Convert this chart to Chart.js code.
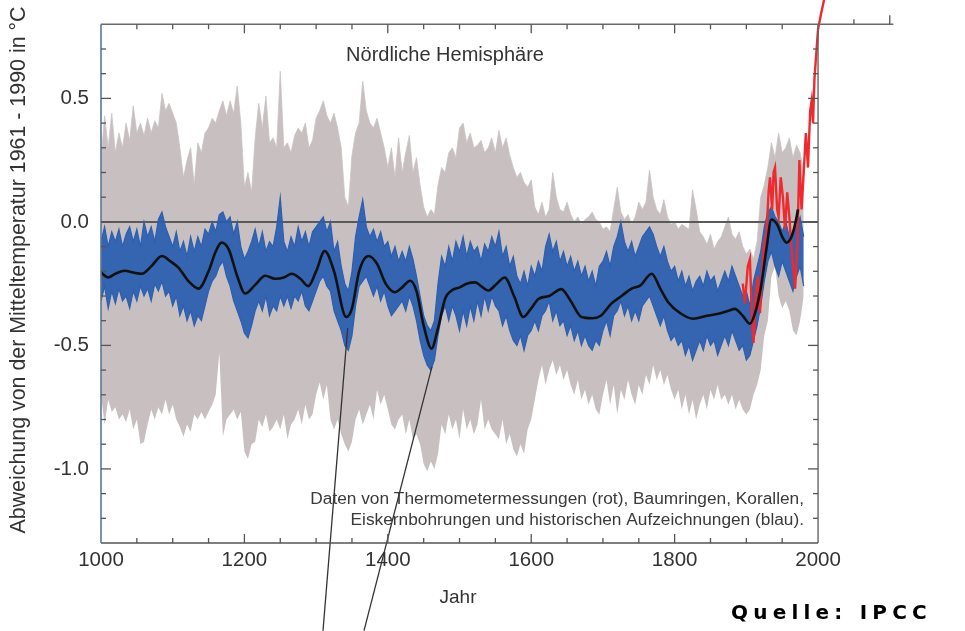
<!DOCTYPE html>
<html><head><meta charset="utf-8">
<script src="https://cdn.jsdelivr.net/npm/chart.js@4.4.1/dist/chart.umd.min.js"></script>
<style>html,body{margin:0;padding:0;background:#fff}#wrap{width:965px;height:631px}</style>
</head><body><div id="wrap"><canvas id="c" width="965" height="631"></canvas></div>
<script>
// ---------- DATA ----------
const bandYears = [
1000,1005,1010,1015,1020,1025,1030,1035,1040,1045,
1050,1055,1060,1065,1070,1075,1080,1085,1090,1095,
1100,1105,1110,1115,1120,1125,1130,1135,1140,1145,
1150,1155,1160,1165,1170,1175,1180,1185,1190,1195,
1200,1205,1210,1215,1220,1225,1230,1235,1240,1245,
1250,1255,1260,1265,1270,1275,1280,1285,1290,1295,
1300,1305,1310,1315,1320,1325,1330,1335,1340,1345,
1350,1355,1360,1365,1370,1375,1380,1385,1390,1395,
1400,1405,1410,1415,1420,1425,1430,1435,1440,1445,
1450,1455,1460,1465,1470,1475,1480,1485,1490,1495,
1500,1505,1510,1515,1520,1525,1530,1535,1540,1545,
1550,1555,1560,1565,1570,1575,1580,1585,1590,1595,
1600,1605,1610,1615,1620,1625,1630,1635,1640,1645,
1650,1655,1660,1665,1670,1675,1680,1685,1690,1695,
1700,1705,1710,1715,1720,1725,1730,1735,1740,1745,
1750,1755,1760,1765,1770,1775,1780,1785,1790,1795,
1800,1805,1810,1815,1820,1825,1830,1835,1840,1845,
1850,1855,1860,1865,1870,1875,1880,1885,1890,1895,
1900,1905,1910,1915,1920,1925,1930,1935,1940,1945,
1950,1955,1960,1965,1970,1975,1980];

const grayUpper = [
0.25,0.43,0.30,0.44,0.28,0.36,0.30,0.40,0.33,0.47,
0.36,0.40,0.35,0.42,0.36,0.41,0.38,0.52,0.45,0.48,
0.44,0.40,0.30,0.18,0.25,0.30,0.15,0.32,0.28,0.36,
0.38,0.42,0.40,0.45,0.49,0.43,0.49,0.44,0.55,0.40,
0.14,0.20,0.12,0.34,0.48,0.38,0.51,0.32,0.34,0.30,
0.61,0.30,0.32,0.28,0.35,0.38,0.36,0.40,0.30,0.33,
0.42,0.45,0.49,0.43,0.40,0.44,0.38,0.30,0.10,0.06,
0.27,0.36,0.40,0.57,0.45,0.40,0.38,0.42,0.36,0.30,
0.22,0.30,0.18,0.34,0.20,0.28,0.35,0.20,0.26,0.15,
0.06,0.02,0.05,0.03,0.15,0.22,0.20,0.28,0.30,0.26,
0.38,0.40,0.32,0.36,0.30,0.31,0.33,0.28,0.30,0.34,
0.28,0.37,0.30,0.34,0.27,0.22,0.18,0.20,0.16,0.14,
0.17,0.06,0.03,0.08,0.02,0.05,0.20,0.10,0.05,0.04,
0.08,0.03,0.00,0.02,-0.01,0.01,0.02,0.04,0.01,0.00,
-0.03,-0.02,-0.04,0.05,0.14,0.04,0.01,0.03,-0.01,0.02,
0.08,0.05,0.08,0.21,0.10,0.05,0.03,0.09,0.02,-0.01,
0.00,-0.03,-0.01,-0.02,-0.03,0.13,0.05,-0.04,-0.06,-0.09,
-0.05,-0.11,-0.08,-0.06,-0.02,0.02,-0.05,-0.07,-0.04,-0.10,
-0.13,-0.11,-0.15,-0.08,0.10,0.15,0.22,0.32,0.26,0.36,
0.28,0.30,0.34,0.26,0.31,0.28,0.20];

const grayLower = [
-0.70,-0.82,-0.72,-0.77,-0.75,-0.80,-0.78,-0.81,-0.76,-0.84,
-0.80,-0.90,-0.89,-0.82,-0.76,-0.80,-0.75,-0.78,-0.72,-0.78,
-0.74,-0.80,-0.83,-0.87,-0.82,-0.85,-0.78,-0.80,-0.77,-0.80,
-0.77,-0.74,-0.70,-0.53,-0.87,-0.80,-0.78,-0.76,-0.80,-0.77,
-0.93,-0.96,-0.90,-0.89,-0.80,-0.83,-0.78,-0.85,-0.83,-0.80,
-0.84,-0.78,-0.88,-0.82,-0.80,-0.76,-0.82,-0.74,-0.80,-0.78,
-0.70,-0.65,-0.72,-0.66,-0.80,-0.84,-0.80,-0.86,-0.90,-0.93,
-0.89,-0.80,-0.76,-0.82,-0.78,-0.74,-0.80,-0.68,-0.74,-0.70,
-0.76,-0.82,-0.84,-0.80,-0.78,-0.86,-0.80,-0.88,-0.86,-0.90,
-0.98,-1.01,-0.97,-1.00,-0.94,-0.82,-0.86,-0.78,-0.84,-0.80,
-0.88,-0.76,-0.84,-0.80,-0.86,-0.82,-0.72,-0.84,-0.80,-0.84,
-0.86,-0.88,-0.80,-0.90,-0.86,-0.92,-0.95,-0.90,-0.94,-0.84,
-0.80,-0.72,-0.64,-0.58,-0.66,-0.60,-0.56,-0.62,-0.58,-0.64,
-0.60,-0.66,-0.70,-0.64,-0.72,-0.68,-0.74,-0.70,-0.76,-0.78,
-0.70,-0.64,-0.74,-0.66,-0.78,-0.68,-0.72,-0.64,-0.70,-0.74,
-0.66,-0.70,-0.62,-0.66,-0.58,-0.64,-0.60,-0.66,-0.62,-0.68,
-0.72,-0.68,-0.76,-0.70,-0.78,-0.72,-0.80,-0.74,-0.70,-0.76,
-0.68,-0.72,-0.66,-0.72,-0.70,-0.74,-0.70,-0.76,-0.72,-0.76,
-0.78,-0.76,-0.70,-0.66,-0.60,-0.46,-0.40,-0.22,-0.18,-0.30,
-0.35,-0.32,-0.36,-0.44,-0.46,-0.40,-0.30];

const blueUpper = [
-0.08,-0.02,-0.10,-0.04,-0.08,-0.03,-0.10,-0.05,-0.02,-0.08,
-0.03,-0.10,0.00,-0.06,-0.02,-0.08,0.01,0.04,-0.02,-0.06,
-0.10,-0.04,-0.12,-0.08,-0.14,-0.06,-0.12,-0.06,-0.10,-0.03,
-0.05,0.00,-0.04,0.03,0.04,0.00,0.02,-0.05,0.00,-0.10,
-0.15,-0.12,-0.08,-0.03,-0.10,-0.04,-0.12,-0.08,-0.10,-0.02,
0.10,-0.08,-0.12,-0.06,-0.10,-0.02,-0.08,-0.04,-0.10,-0.04,
-0.02,0.00,0.02,-0.04,0.00,-0.12,-0.08,-0.18,-0.25,-0.28,
-0.20,-0.06,0.02,0.09,-0.02,-0.06,-0.03,-0.08,-0.04,-0.10,
-0.08,-0.14,-0.10,-0.16,-0.12,-0.16,-0.10,-0.15,-0.22,-0.30,
-0.38,-0.42,-0.44,-0.40,-0.25,-0.14,-0.18,-0.10,-0.16,-0.08,
-0.12,-0.06,-0.14,-0.08,-0.12,-0.10,-0.16,-0.09,-0.12,-0.06,
-0.10,-0.04,-0.14,-0.10,-0.18,-0.14,-0.22,-0.25,-0.20,-0.26,
-0.18,-0.22,-0.16,-0.20,-0.10,-0.05,-0.12,-0.08,-0.16,-0.12,
-0.18,-0.14,-0.20,-0.16,-0.22,-0.18,-0.24,-0.20,-0.26,-0.18,
-0.16,-0.12,-0.18,-0.10,-0.06,0.00,-0.08,-0.12,-0.08,-0.14,
-0.10,-0.06,-0.04,-0.02,-0.05,-0.10,-0.14,-0.10,-0.16,-0.20,
-0.18,-0.24,-0.20,-0.26,-0.22,-0.28,-0.24,-0.22,-0.26,-0.20,
-0.24,-0.22,-0.28,-0.24,-0.20,-0.24,-0.18,-0.22,-0.26,-0.30,
-0.28,-0.34,-0.24,-0.18,-0.12,-0.02,0.04,0.06,0.02,0.00,
-0.04,0.00,-0.06,-0.04,-0.02,0.02,-0.06];

const blueLower = [
-0.32,-0.26,-0.35,-0.28,-0.33,-0.27,-0.32,-0.30,-0.35,-0.28,
-0.32,-0.26,-0.30,-0.27,-0.32,-0.25,-0.28,-0.24,-0.30,-0.28,
-0.34,-0.30,-0.38,-0.34,-0.40,-0.36,-0.42,-0.38,-0.40,-0.34,
-0.28,-0.24,-0.22,-0.18,-0.16,-0.22,-0.26,-0.32,-0.36,-0.40,
-0.45,-0.47,-0.42,-0.36,-0.32,-0.36,-0.30,-0.38,-0.34,-0.36,
-0.30,-0.34,-0.30,-0.35,-0.30,-0.32,-0.28,-0.34,-0.36,-0.32,
-0.28,-0.24,-0.22,-0.26,-0.28,-0.36,-0.40,-0.44,-0.50,-0.52,
-0.46,-0.34,-0.26,-0.24,-0.22,-0.26,-0.30,-0.26,-0.32,-0.28,
-0.34,-0.38,-0.36,-0.34,-0.32,-0.36,-0.30,-0.34,-0.40,-0.48,
-0.54,-0.58,-0.60,-0.56,-0.46,-0.38,-0.34,-0.40,-0.34,-0.38,
-0.44,-0.36,-0.42,-0.34,-0.40,-0.32,-0.38,-0.30,-0.36,-0.30,
-0.34,-0.36,-0.42,-0.38,-0.44,-0.48,-0.50,-0.46,-0.52,-0.46,
-0.44,-0.40,-0.44,-0.38,-0.36,-0.32,-0.40,-0.36,-0.42,-0.40,
-0.46,-0.42,-0.48,-0.44,-0.50,-0.46,-0.50,-0.52,-0.48,-0.50,
-0.44,-0.40,-0.46,-0.38,-0.36,-0.32,-0.38,-0.34,-0.40,-0.36,
-0.40,-0.34,-0.32,-0.30,-0.34,-0.38,-0.42,-0.38,-0.44,-0.48,
-0.46,-0.50,-0.48,-0.54,-0.50,-0.56,-0.52,-0.48,-0.52,-0.46,
-0.50,-0.48,-0.54,-0.50,-0.46,-0.50,-0.44,-0.48,-0.52,-0.50,
-0.56,-0.54,-0.48,-0.42,-0.34,-0.24,-0.16,-0.12,-0.18,-0.22,
-0.16,-0.20,-0.24,-0.28,-0.22,-0.18,-0.26];

const smoothYears = [1000,1010,1020,1033,1045,1057,1070,1085,1097,1108,1122,1136,1150,1160,1168,1178,1190,1201,1215,1229,1243,1255,1266,1278,1289,1300,1312,1325,1342,1350,1360,1373,1385,1397,1410,1420,1431,1440,1450,1461,1470,1480,1489,1500,1510,1522,1531,1540,1552,1563,1576,1589,1600,1610,1625,1642,1655,1670,1685,1697,1712,1726,1740,1752,1768,1780,1791,1808,1826,1845,1861,1875,1884,1895,1905,1912,1920,1928,1935,1943,1950,1956,1963,1968,1972];
const smoothVals = [-0.205,-0.225,-0.21,-0.198,-0.205,-0.21,-0.18,-0.138,-0.16,-0.185,-0.24,-0.27,-0.2,-0.12,-0.084,-0.11,-0.22,-0.29,-0.255,-0.218,-0.23,-0.225,-0.21,-0.23,-0.26,-0.2,-0.118,-0.2,-0.385,-0.35,-0.2,-0.138,-0.17,-0.25,-0.285,-0.265,-0.238,-0.28,-0.42,-0.513,-0.43,-0.31,-0.278,-0.265,-0.25,-0.245,-0.262,-0.278,-0.25,-0.225,-0.3,-0.385,-0.35,-0.312,-0.3,-0.272,-0.32,-0.385,-0.39,-0.38,-0.33,-0.30,-0.27,-0.258,-0.21,-0.27,-0.325,-0.37,-0.392,-0.38,-0.372,-0.36,-0.352,-0.38,-0.412,-0.37,-0.27,-0.11,0.01,-0.01,-0.06,-0.084,-0.06,-0.01,0.05];

const thermoYears = [1895,1898,1902,1905,1908,1910,1913,1916,1919,1922,1925,1928,1931,1933,1936,1938,1940,1943,1945,1948,1951,1954,1957,1960,1963,1966,1968,1971,1974,1977,1980,1983,1986,1989,1991,1993,1995,1998,2000,2004,2010];
const thermoVals = [-0.25,-0.33,-0.18,-0.15,-0.40,-0.49,-0.30,-0.22,-0.37,-0.20,-0.08,-0.05,0.12,0.18,0.05,0.20,0.22,0.05,0.02,0.18,0.10,-0.03,0.12,0.02,-0.11,-0.20,-0.27,-0.10,0.25,0.05,0.20,0.36,0.22,0.45,0.49,0.40,0.58,0.70,0.78,0.84,0.92];

const zeroYears = [1000, 2000];
const zeroVals = [0, 0];

const pointer1Years = [1309.6, 1344];
const pointer1Vals = [-1.655, -0.43];
const pointer2Years = [1366.8, 1461.6];
const pointer2Vals = [-1.655, -0.586];

const xTickLabels = [1000, 1200, 1400, 1600, 1800, 2000];
const yTickLabels = [-1.0, -0.5, 0.0, 0.5];

const titleText = 'Nördliche Hemisphäre';
const noteLines = ['Daten von Thermometermessungen (rot), Baumringen, Korallen,',
                   'Eiskernbohrungen und historischen Aufzeichnungen (blau).'];
const xTitle = 'Jahr';
const yTitle = 'Abweichung von der Mitteltemperatur 1961 - 1990 in °C';
const sourceText = 'Quelle: IPCC';

// ---------- CHART ----------
function pts(xs, ys) { return xs.map((x, i) => ({x: x, y: ys[i]})); }
const FONT = '"Liberation Sans", Arial, Helvetica, sans-serif';

const decor = {
  id: 'decor',
  afterDatasetsDraw(chart) {
    const ctx = chart.ctx, xs = chart.scales.x, ys = chart.scales.y;
    const L = xs.getPixelForValue(1000), R = xs.getPixelForValue(2000);
    const T = ys.getPixelForValue(0.8), B = ys.getPixelForValue(-1.3);
    ctx.save();
    ctx.lineCap = 'butt';
    ctx.strokeStyle = '#6a6a6a'; ctx.lineWidth = 1.6;
    ctx.beginPath(); ctx.moveTo(L, T); ctx.lineTo(xs.getPixelForValue(2105), T); ctx.stroke();
    ctx.strokeStyle = '#666'; ctx.lineWidth = 1.4;
    ctx.beginPath(); ctx.moveTo(R, T); ctx.lineTo(R, B); ctx.stroke();
    ctx.strokeStyle = '#555'; ctx.lineWidth = 1.6;
    ctx.beginPath(); ctx.moveTo(L, B); ctx.lineTo(R, B); ctx.stroke();
    ctx.strokeStyle = '#5d7694'; ctx.lineWidth = 1.6;
    ctx.beginPath(); ctx.moveTo(L, T); ctx.lineTo(L, B); ctx.stroke();
    ctx.strokeStyle = '#555'; ctx.lineWidth = 1.3;
    for (let yr = 1050; yr < 2000; yr += 50) {
      const px = xs.getPixelForValue(yr);
      const len = (yr % 200 === 0) ? 9 : 5;
      ctx.beginPath(); ctx.moveTo(px, B); ctx.lineTo(px, B - len); ctx.stroke();
      ctx.beginPath(); ctx.moveTo(px, T); ctx.lineTo(px, T + len); ctx.stroke();
    }
    [[2050, 5], [2100, 9]].forEach(([yr, len]) => {
      const px = xs.getPixelForValue(yr);
      ctx.beginPath(); ctx.moveTo(px, T); ctx.lineTo(px, T - len); ctx.stroke();
    });
    for (let k = -12; k <= 7; k++) {
      const v = k / 10;
      const py = ys.getPixelForValue(v);
      const len = (k % 5 === 0) ? 10 : 5;
      ctx.beginPath(); ctx.moveTo(L, py); ctx.lineTo(L + len, py); ctx.stroke();
      ctx.beginPath(); ctx.moveTo(R, py); ctx.lineTo(R - len, py); ctx.stroke();
    }
    ctx.restore();
  },
  afterDraw(chart) {
    const ctx = chart.ctx;
    ctx.save();
    ctx.fillStyle = '#333';
    ctx.textBaseline = 'middle';
    ctx.font = '20px ' + FONT; ctx.textAlign = 'center';
    ctx.fillText(titleText, 445, 55);
    ctx.font = '17.3px ' + FONT; ctx.textAlign = 'right'; ctx.fillStyle = '#3a3a3a';
    ctx.fillText(noteLines[0], 804, 499);
    ctx.fillText(noteLines[1], 804, 520);
    ctx.fillStyle = '#333';
    ctx.font = '19px ' + FONT; ctx.textAlign = 'center';
    ctx.fillText(xTitle, 458, 598);
    ctx.save();
    ctx.translate(19, 270); ctx.rotate(-Math.PI / 2);
    ctx.font = '21.4px ' + FONT; ctx.textAlign = 'center';
    ctx.fillText(yTitle, 0, 0);
    ctx.restore();
    ctx.fillStyle = '#000';
    ctx.font = 'bold 20px "DejaVu Sans", sans-serif'; ctx.textAlign = 'left'; ctx.textBaseline = 'alphabetic';
    let cx = 731;
    for (const ch of sourceText) { ctx.fillText(ch, cx, 619); cx += ctx.measureText(ch).width + 5.2; }
    ctx.restore();
  }
};

new Chart(document.getElementById('c'), {
  type: 'line',
  data: {
    datasets: [
      {data: pts(bandYears, grayLower), borderWidth: 0, pointRadius: 0, fill: false, order: 10, tension: 0},
      {data: pts(bandYears, grayUpper), borderWidth: 0.8, borderColor: '#cbc3c3', pointRadius: 0, fill: '-1', backgroundColor: '#c8c0c0', order: 10, tension: 0},
      {data: pts(zeroYears, zeroVals), borderColor: '#5a5a5a', borderWidth: 2, pointRadius: 0, fill: false, order: 9},
      {data: pts(bandYears, blueLower), borderColor: '#2d5fb0', borderWidth: 1.2, pointRadius: 0, fill: false, order: 8, tension: 0},
      {data: pts(bandYears, blueUpper), borderColor: '#2d5fb0', borderWidth: 1.2, pointRadius: 0, fill: '-1', backgroundColor: 'rgba(40,92,176,0.92)', order: 8, tension: 0},
      {data: pts(thermoYears, thermoVals), borderColor: '#ee2a2e', borderWidth: 2.4, pointRadius: 0, fill: false, order: 6, tension: 0, clip: false},
      {data: pts(smoothYears, smoothVals), borderColor: '#111', borderWidth: 2.6, pointRadius: 0, fill: false, order: 5, cubicInterpolationMode: 'monotone'},
      {data: pts(pointer1Years, pointer1Vals), borderColor: '#333', borderWidth: 1.3, pointRadius: 0, fill: false, order: 1, clip: false},
      {data: pts(pointer2Years, pointer2Vals), borderColor: '#333', borderWidth: 1.3, pointRadius: 0, fill: false, order: 1, clip: false}
    ]
  },
  options: {
    responsive: false, animation: false, devicePixelRatio: 1,
    layout: {padding: {left: 0, right: 136.2, top: 20, bottom: 0}},
    plugins: {legend: {display: false}, tooltip: {enabled: false}, title: {display: false}},
    scales: {
      x: {
        type: 'linear', min: 1000, max: 2015, position: 'bottom',
        afterFit(s) { s.height = 88; },
        afterBuildTicks(s) { s.ticks = xTickLabels.map(v => ({value: v})); },
        grid: {display: false, drawTicks: false}, border: {display: false},
        ticks: {padding: 5, autoSkip: false, maxRotation: 0, color: '#333',
                font: {family: FONT, size: 20.5}, callback: v => String(v)}
      },
      y: {
        type: 'linear', min: -1.3, max: 0.8,
        afterFit(s) { s.width = 101; },
        afterBuildTicks(s) { s.ticks = yTickLabels.map(v => ({value: v})); },
        grid: {display: false, drawTicks: false}, border: {display: false},
        ticks: {padding: 12, color: '#333', font: {family: FONT, size: 20.5},
                callback: v => Number(v).toFixed(1)}
      }
    }
  },
  plugins: [decor]
});
</script>
</body></html>
